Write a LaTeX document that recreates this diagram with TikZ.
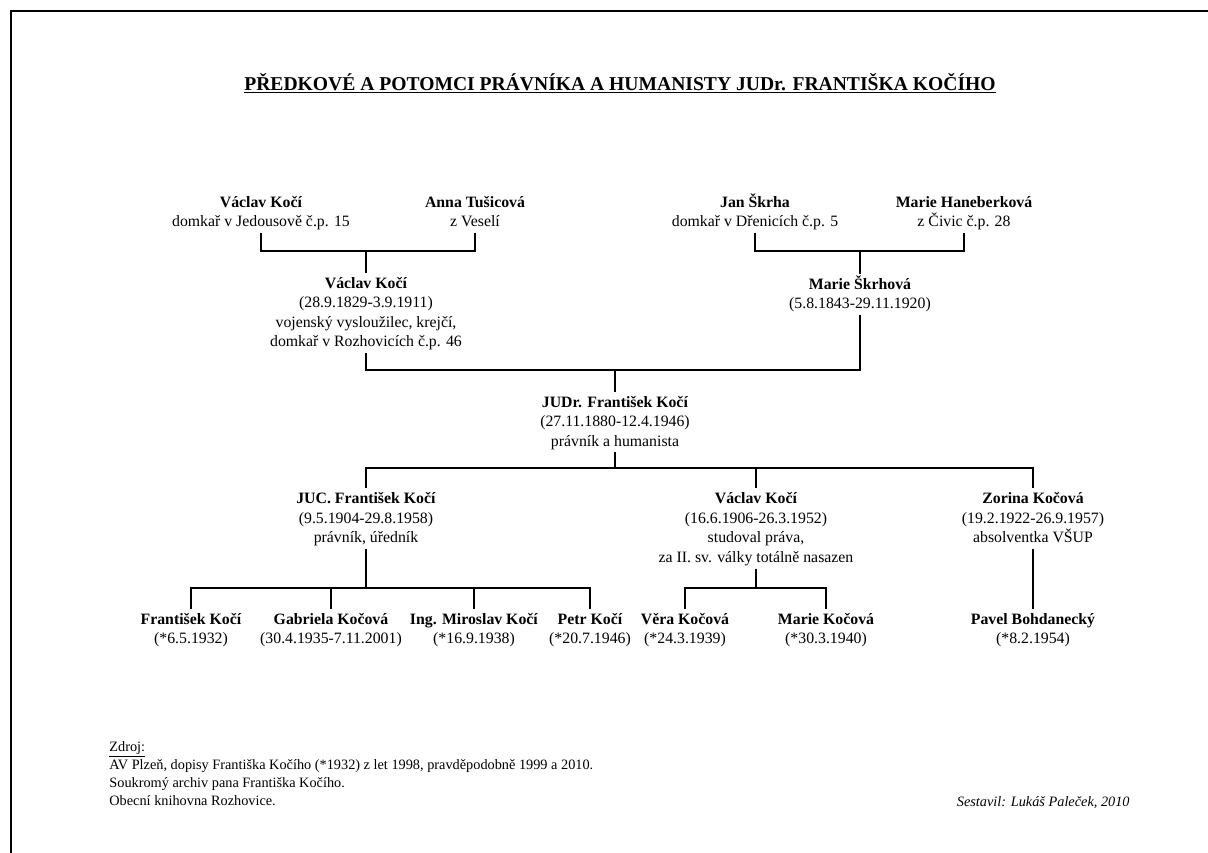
\documentclass[tikz,border=0pt]{standalone}
\usepackage{fontspec}
\setmainfont{Liberation Serif}
\usepackage{tikz}
\usetikzlibrary{positioning}

% name line and last line of a family member, with fixed height and depth
\newcommand{\famname}[1]{\rule{0pt}{15.5pt}\textbf{#1}}
\newcommand{\famend}{\rule[-6.3pt]{0pt}{6.3pt}}

\begin{document}
\begin{tikzpicture}[x=1pt, y=-1pt, thick]
        % Define block styles
        \tikzstyle{person} = [align=center, inner sep=0pt, outer sep=0pt, font=\fontsize{15.8}{19.5}\selectfont]
        \tikzstyle{line} = [draw, line width=1.4pt]
        \tikzstyle{small} = [align=left, inner sep=0pt, font=\fontsize{14.3}{18}\selectfont]

        \useasboundingbox (0,0) rectangle (1208,852);
        \draw[line width=2.6pt] (11,853) -- (11,11) -- (1209,11);

        % Title
        \node [inner sep=0pt, anchor=base, font=\fontsize{19.6}{22}\selectfont\bfseries] (title) at (620,90) {\underline{PŘEDKOVÉ A POTOMCI PRÁVNÍKA A HUMANISTY JUDr. FRANTIŠKA KOČÍHO}};

        % Define nodes
        \node [person] (vaclavA) at (261,212.5) {\famname{Václav Kočí}\\domkař v Jedousově č.p. 15\famend};
        \node [person] (annaT) at (475,212.5) {\famname{Anna Tušicová}\\z Veselí\famend};
        \node [person] (janS) at (755,212.5) {\famname{Jan Škrha}\\domkař v Dřenicích č.p. 5\famend};
        \node [person] (marieH) at (964,212.5) {\famname{Marie Haneberková}\\z Čivic č.p. 28\famend};
        \node [person] (vaclavB) at (366,313) {\famname{Václav Kočí}\\(28.9.1829-3.9.1911)\\vojenský vysloužilec, krejčí,\\domkař v Rozhovicích č.p. 46\famend};
        \node [person] (marieS) at (860,294.5) {\famname{Marie Škrhová}\\(5.8.1843-29.11.1920)\famend};
        \node [person] (frantisek) at (615,422) {\famname{JUDr. František Kočí}\\(27.11.1880-12.4.1946)\\právník a humanista\famend};
        \node [person] (jucF) at (366,518.5) {\famname{JUC. František Kočí}\\(9.5.1904-29.8.1958)\\právník, úředník\famend};
        \node [person] (vaclavC) at (756,528.5) {\famname{Václav Kočí}\\(16.6.1906-26.3.1952)\\studoval práva,\\za II. sv. války totálně nasazen\famend};
        \node [person] (zorina) at (1033,518.5) {\famname{Zorina Kočová}\\(19.2.1922-26.9.1957)\\absolventka VŠUP\famend};
        \node [person] (frantisekD) at (191,629.5) {\famname{František Kočí}\\(*6.5.1932)\famend};
        \node [person] (gabriela) at (331,629.5) {\famname{Gabriela Kočová}\\(30.4.1935-7.11.2001)\famend};
        \node [person] (miroslav) at (474,629.5) {\famname{Ing. Miroslav Kočí}\\(*16.9.1938)\famend};
        \node [person] (petr) at (590,629.5) {\famname{Petr Kočí}\\(*20.7.1946)\famend};
        \node [person] (vera) at (685,629.5) {\famname{Věra Kočová}\\(*24.3.1939)\famend};
        \node [person] (marieK) at (826,629.5) {\famname{Marie Kočová}\\(*30.3.1940)\famend};
        \node [person] (pavel) at (1033,629.5) {\famname{Pavel Bohdanecký}\\(*8.2.1954)\famend};

        % Junctions
        \coordinate (jA) at (366,251);
        \coordinate (jB) at (860,251);
        \coordinate (jC) at (615,370);
        \coordinate (jD) at (615,468);
        \coordinate (jE) at (366,588);
        \coordinate (jF) at (756,588);

        % Connect nodes with paths
        \draw[line] (vaclavA.south) |- (jA) -| (annaT.south);
        \draw[line] (jA) -- (vaclavB.north);
        \draw[line] (janS.south) |- (jB) -| (marieH.south);
        \draw[line] (jB) -- (marieS.north);
        \draw[line] (vaclavB.south) |- (jC) -| (marieS.south);
        \draw[line] (jC) -- (frantisek.north);
        \draw[line] (frantisek.south) -- (jD);
        \draw[line] (jucF.north) |- (jD) -| (zorina.north);
        \draw[line] (jD -| vaclavC.north) -- (vaclavC.north);
        \draw[line] (jucF.south) -- (jE);
        \draw[line] (frantisekD.north) |- (jE) -| (petr.north);
        \draw[line] (jE -| gabriela.north) -- (gabriela.north);
        \draw[line] (jE -| miroslav.north) -- (miroslav.north);
        \draw[line] (vaclavC.south) -- (jF);
        \draw[line] (vera.north) |- (jF) -| (marieK.north);
        \draw[line] (zorina.south) -- (pavel.north);

        % Sources
        \node [small, anchor=north west] (zdroj) at (109,741) {\underline{Zdroj:}\\AV Plzeň, dopisy Františka Kočího (*1932) z let 1998, pravděpodobně 1999 a 2010.\\Soukromý archiv pana Františka Kočího.\\Obecní knihovna Rozhovice.};
        \node [small, anchor=base east, font=\fontsize{14.3}{18}\selectfont\itshape] (author) at (1130,806) {Sestavil: Lukáš Paleček, 2010};

    \end{tikzpicture}
\end{document}
